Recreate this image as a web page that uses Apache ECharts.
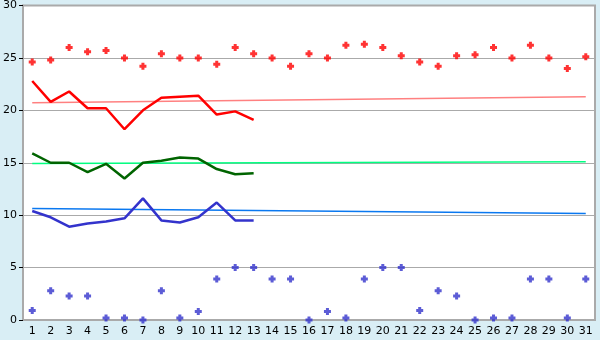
<!DOCTYPE html>
<html><head><meta charset="utf-8">
<script src="https://cdn.jsdelivr.net/npm/echarts@6/dist/echarts.min.js"></script>
<style>html,body{margin:0;padding:0;background:#d9eef5;}#c{width:600px;height:340px;}</style>
</head><body><div id="c"></div>
<script>
const days = ['1','2','3','4','5','6','7','8','9','10','11','12','13','14','15','16','17','18','19','20','21','22','23','24','25','26','27','28','29','30','31'];
const yTicks = [0,5,10,15,20,25,30];
const maxPoints = [24.6,24.8,26.0,25.6,25.7,25.0,24.2,25.4,25.0,25.0,24.4,26.0,25.4,25.0,24.2,25.4,25.0,26.2,26.3,26.0,25.2,24.6,24.2,25.2,25.3,26.0,25.0,26.2,25.0,24.0,25.1];
const minPoints = [0.9,2.8,2.3,2.3,0.2,0.2,0.0,2.8,0.2,0.8,3.9,5.0,5.0,3.9,3.9,0.0,0.8,0.2,3.9,5.0,5.0,0.9,2.8,2.3,0.0,0.2,0.2,3.9,3.9,0.2,3.9];
const redLine = [22.8,20.8,21.8,20.2,20.2,18.2,20.0,21.2,21.3,21.4,19.6,19.9,19.1];
const greenLine = [15.9,15.0,15.0,14.1,14.9,13.5,15.0,15.2,15.5,15.4,14.4,13.9,14.0];
const blueLine = [10.4,9.8,8.9,9.2,9.4,9.7,11.6,9.5,9.3,9.8,11.2,9.5,9.5];
const redTrend = [20.73, 21.3];
const greenTrend = [14.93, 15.1];
const blueTrend = [10.63, 10.15];

const first = days[0], last = days[days.length-1];
function trend(v){ return [[first, v[0]], [last, v[1]]]; }
const plus = 'path://M2,0H5V2H7V5H5V7H2V5H0V2H2Z';

const chart = echarts.init(document.getElementById('c'), null, {renderer:'canvas'});
const txt = {fontFamily:'DejaVu Sans', fontSize:11, color:'#000'};
chart.setOption({
  backgroundColor:'#d9eef5',
  animation:false,
  grid:{left:20,right:5,top:5,bottom:20,show:true,backgroundColor:'#fff',borderColor:'#aaa',borderWidth:2},
  xAxis:{type:'category',data:days,boundaryGap:true,
    axisLine:{lineStyle:{color:'#aaa',width:2}},
    axisTick:{alignWithLabel:true,length:5,lineStyle:{color:'#000'}},
    axisLabel:Object.assign({margin:6,interval:0},txt),
    splitLine:{show:false}},
  yAxis:{type:'value',min:yTicks[0],max:yTicks[yTicks.length-1],interval:5,
    axisLine:{show:true,lineStyle:{color:'#aaa',width:2}},
    axisTick:{show:true,length:4,lineStyle:{color:'#000'}},
    axisLabel:Object.assign({margin:6},txt),
    splitLine:{lineStyle:{color:'#aaa',width:1}}},
  series:[
    {type:'line',data:trend(redTrend),symbol:'none',lineStyle:{color:'#ff8080',width:1.5},z:2},
    {type:'line',data:trend(greenTrend),symbol:'none',lineStyle:{color:'#00ff80',width:1.5},z:2},
    {type:'line',data:trend(blueTrend),symbol:'none',lineStyle:{color:'#0a78f0',width:1.5},z:2},
    {type:'line',data:redLine,symbol:'none',lineStyle:{color:'#ff0000',width:2.5},z:3},
    {type:'line',data:greenLine,symbol:'none',lineStyle:{color:'#006400',width:2.5},z:3},
    {type:'line',data:blueLine,symbol:'none',lineStyle:{color:'#3333cc',width:2.5},z:3},
    {type:'scatter',data:maxPoints,symbol:plus,symbolSize:7,itemStyle:{color:'#ff0000'},z:4},
    {type:'scatter',data:minPoints,symbol:plus,symbolSize:7,itemStyle:{color:'#3333cc'},z:4}
  ]
});
</script>
</body></html>
